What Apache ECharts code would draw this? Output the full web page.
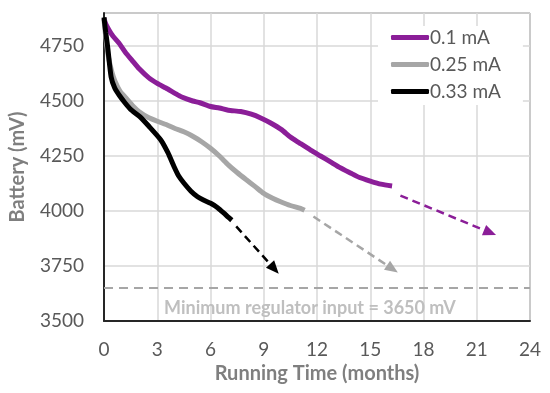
<!DOCTYPE html>
<html>
<head>
<meta charset="utf-8">
<script src="https://cdn.jsdelivr.net/npm/echarts@6/dist/echarts.min.js"></script>
<style>html,body{margin:0;padding:0;background:#fff;}#c{width:550px;height:393px;}</style>
</head>
<body>
<div id="c"></div>
<script>
// Data (months, mV)
const seriesNames = ['0.1 mA', '0.25 mA', '0.33 mA'];
const data01 = [
  [0,4875],[0.1,4850],[0.28,4823],[0.5,4795],[0.84,4764],[1.2,4722],[1.57,4686],[2.0,4645],
  [2.53,4605],[3.0,4580],[3.49,4559],[4.0,4535],[4.38,4518],[5.0,4500],[5.4,4492],[6.0,4475],
  [6.5,4468],[7.0,4458],[7.7,4452],[8.3,4440],[8.83,4423],[9.39,4400],[10.0,4370],[10.5,4336],
  [11.0,4310],[11.64,4277],[12.2,4250],[12.76,4223],[13.3,4197],[13.88,4173],[14.4,4152],
  [15.0,4136],[15.6,4122],[16.23,4114]
];
const data025 = [
  [0,4870],[0.1,4790],[0.25,4700],[0.45,4630],[0.62,4590],[0.9,4545],[1.22,4515],[1.6,4480],
  [2.0,4450],[2.5,4425],[3.0,4408],[3.5,4393],[4.0,4375],[4.5,4360],[5.0,4340],[5.5,4315],
  [6.0,4285],[6.5,4250],[7.0,4210],[7.5,4175],[8.0,4143],[8.5,4112],[9.0,4080],[9.5,4058],
  [9.95,4042],[10.5,4025],[11.07,4012],[11.3,4003]
];
const data033 = [
  [0,4880],[0.1,4810],[0.2,4750],[0.4,4610],[0.6,4560],[0.86,4526],[1.2,4490],[1.5,4462],
  [2.0,4430],[2.53,4385],[3.2,4323],[3.6,4265],[3.95,4201],[4.2,4160],[4.51,4126],[4.9,4090],
  [5.27,4065],[5.6,4050],[6.01,4035],[6.4,4015],[6.76,3990],[7.0,3972],[7.2,3958]
];
// Extrapolation arrows: [start, end]
const arrow01 = [[16.7,4070],[21.75,3902]];
const arrow025 = [[11.8,3975],[16.25,3737]];
const arrow033 = [[7.45,3930],[9.6,3737]];
const minRegulator = 3650;
const minLabel = 'Minimum regulator input = 3650 mV';
const minLabelPos = [11.6, 3560];
const xTicks = {min:0, max:24, interval:3};
const yTicks = {min:3500, max:4900, interval:250};
const colors = ['#8B1E98', '#A6A6A6', '#000000'];

const FONT = 'Lato';
function arrowLine(pts, color){
  return {
    silent:true, symbol:['none','triangle'], symbolSize:[11,13],
    label:{show:false},
    lineStyle:{color:color, type:[8,5], width:2.5},
    data:[[{coord:pts[0]},{coord:pts[1]}]]
  };
}
const chart = echarts.init(document.getElementById('c'), null, {renderer:'canvas'});
chart.setOption({
  animation:false,
  textStyle:{fontFamily:FONT},
  grid:{left:103, right:20, top:13, bottom:72, show:true, borderColor:'#404040', borderWidth:1},
  legend:{
    data:seriesNames, orient:'vertical', left:378, top:26,
    backgroundColor:'#fff', padding:[2,22,4,13], itemGap:8,
    icon:'roundRect', itemWidth:38, itemHeight:5,
    textStyle:{fontFamily:FONT, fontSize:19, color:'#595959', padding:[0,0,0,-4]}
  },
  xAxis:{
    type:'value', min:xTicks.min, max:xTicks.max, interval:xTicks.interval,
    name:'Running Time (months)', nameLocation:'middle', nameGap:41,
    nameTextStyle:{fontFamily:FONT, fontSize:20, fontWeight:'bold', color:'#7F7F7F'},
    axisLine:{show:true, lineStyle:{color:'#262626', width:2}},
    axisTick:{show:false},
    axisLabel:{fontFamily:FONT, fontSize:19, color:'#595959', margin:19},
    splitLine:{show:true, lineStyle:{color:'#D9D9D9', width:1.5}}
  },
  yAxis:{
    type:'value', min:yTicks.min, max:yTicks.max, interval:yTicks.interval,
    name:'Battery (mV)', nameLocation:'middle', nameGap:76,
    nameTextStyle:{fontFamily:FONT, fontSize:20, fontWeight:'bold', color:'#7F7F7F'},
    axisLine:{show:true, lineStyle:{color:'#262626', width:2}},
    axisTick:{show:false},
    axisLabel:{fontFamily:FONT, fontSize:19, color:'#595959', margin:20, showMaxLabel:false,
               formatter:function(v){return String(v);}},
    splitLine:{show:true, lineStyle:{color:'#D9D9D9', width:1.5}}
  },
  series:[
    {name:seriesNames[0], type:'line', data:data01, showSymbol:false, smooth:0.2,
     lineStyle:{color:colors[0], width:5}, itemStyle:{color:colors[0]},
     markLine:arrowLine(arrow01, colors[0])},
    {name:seriesNames[1], type:'line', data:data025, showSymbol:false, smooth:0.2,
     lineStyle:{color:colors[1], width:5}, itemStyle:{color:colors[1]},
     markLine:arrowLine(arrow025, colors[1])},
    {name:seriesNames[2], type:'line', data:data033, showSymbol:false, smooth:0.2,
     lineStyle:{color:colors[2], width:5}, itemStyle:{color:colors[2]},
     markLine:arrowLine(arrow033, colors[2])},
    {name:'threshold', type:'line', data:[], z:1,
     markLine:{silent:true, symbol:['none','none'], label:{show:false},
       lineStyle:{color:'#A6A6A6', type:[9,6], width:2},
       data:[{yAxis:minRegulator}]},
     markPoint:{silent:true, symbol:'circle', symbolSize:0,
       label:{show:true, position:'inside', formatter:minLabel, fontFamily:FONT, fontSize:18,
              fontWeight:'bold', color:'#BFBFBF'},
       data:[{coord:minLabelPos}]}
    }
  ]
});
</script>
</body>
</html>
